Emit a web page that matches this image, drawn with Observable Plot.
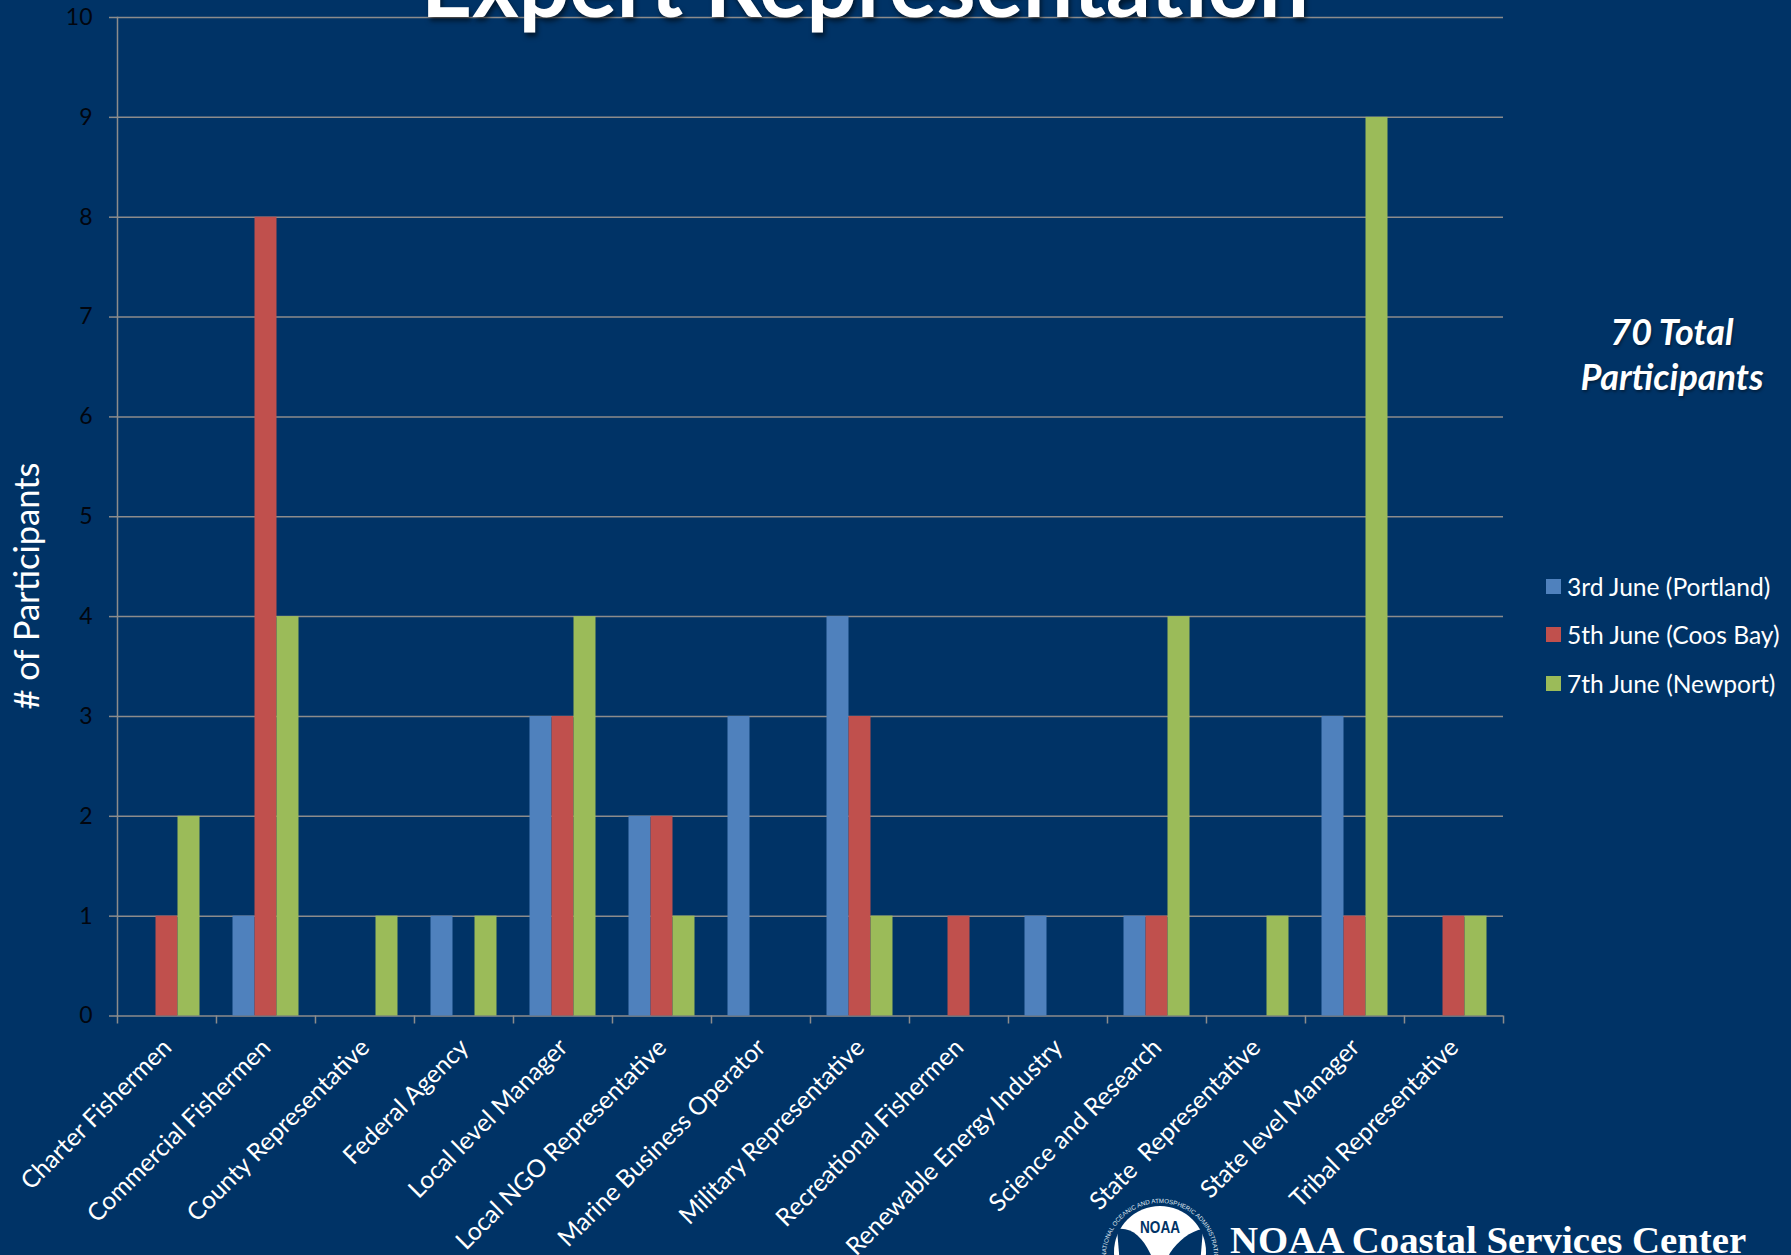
<!DOCTYPE html>
<html><head><meta charset="utf-8">
<script src="https://cdn.jsdelivr.net/npm/d3@7"></script>
<script src="https://cdn.jsdelivr.net/npm/@observablehq/plot@0.6"></script>
<style>
html,body{margin:0;padding:0;background:#003366;width:1791px;height:1255px;overflow:hidden;font-family:Lato,sans-serif;color:#fff}
#wrap{position:relative;width:1791px;height:1255px;overflow:hidden}
#chart svg{display:block;background:transparent}
.ov{position:absolute;white-space:pre;line-height:1}
#title{left:0;width:1730px;text-align:center;top:-62px;font-size:89px;font-weight:700;text-shadow:2px 4px 5px rgba(0,0,0,.55)}
#ytitle{left:26px;top:586px;font-size:34.5px;transform:translate(-50%,-50%) rotate(-90deg)}
.total{left:1572px;width:200px;text-align:center;font-size:36px;font-weight:700;font-style:italic;text-shadow:1px 2px 3px rgba(0,0,0,.4)}
.leg{font-size:24.6px}
.sw{position:absolute;width:15px;height:15px}
#noaa{left:1230px;top:1221px;font-family:"Liberation Serif",serif;font-weight:700;font-size:38.8px}
#logo{position:absolute;left:1100px;top:1195px}
</style></head><body>
<div id="wrap">
<div id="chart"></div>
<div class="ov" id="title">Expert Representation</div>
<div class="ov" id="ytitle"># of Participants</div>
<div class="ov total" style="top:313px">70 Total</div>
<div class="ov total" style="top:358px">Participants</div>
<div id="legend"></div>
<svg id="logo" width="120" height="60" viewBox="0 0 120 60">
  <defs><path id="ring" d="M 6 62 A 53 53 0 1 1 114 62"/></defs>
  <circle cx="60" cy="57" r="46" fill="#fff"/>
  <path d="M 17 34 C 32 32 42 42 50 58 L 56 70 L 20 70 Z" fill="#003366"/>
  <path d="M 103 34 C 90 36 78 46 70 58 L 64 70 L 100 70 Z" fill="#003366"/>
  <text font-family="Liberation Sans,sans-serif" font-size="6.2" fill="#dfe6ef"><textPath href="#ring" startOffset="0">NATIONAL OCEANIC AND ATMOSPHERIC ADMINISTRATION</textPath></text>
  <text x="60" y="38" text-anchor="middle" font-family="Liberation Sans,sans-serif" font-weight="700" font-size="16" fill="#003366" textLength="40" lengthAdjust="spacingAndGlyphs">NOAA</text>
</svg>
<div class="ov" id="noaa">NOAA Coastal Services Center</div>
</div>
<script>
const categories = ["Charter Fishermen","Commercial Fishermen","County Representative","Federal Agency","Local level Manager","Local NGO Representative","Marine Business Operator","Military Representative","Recreational Fishermen","Renewable Energy Industry","Science and Research","State  Representative","State level Manager","Tribal Representative"];
const seriesNames = ["3rd June (Portland)","5th June (Coos Bay)","7th June (Newport)"];
const portland = [0,1,0,1,3,2,3,4,0,1,1,0,3,0];
const coosBay  = [1,8,0,0,3,2,0,3,1,0,1,0,1,1];
const newport  = [2,4,1,1,4,1,0,1,0,0,4,1,9,1];
const seriesColors = ["#4f81bd","#c0504d","#9bbb59"];
const yTicks = [0,1,2,3,4,5,6,7,8,9,10];

const rows = categories.flatMap((c,i)=>[portland,coosBay,newport].map((v,s)=>({category:c,series:seriesNames[s],value:v[i]})));
const axisGray = "#8c8c8c";
const bandW = (1503-116.5)/14;

const plot = Plot.plot({
  width:1791, height:1255,
  marginLeft:116.5, marginRight:288, marginTop:17, marginBottom:239.5,
  style:{background:"transparent",fontFamily:"Lato,sans-serif",overflow:"visible"},
  fx:{domain:categories,padding:0,label:null,axis:null},
  x:{domain:seriesNames,paddingInner:0,paddingOuter:0.75,axis:null},
  y:{domain:[0,10],axis:null},
  color:{domain:seriesNames,range:seriesColors},
  marks:[
    Plot.ruleY(yTicks,{stroke:axisGray,strokeWidth:1.5}),
    Plot.frame({anchor:"left",stroke:axisGray,strokeWidth:1.5,facet:"super"}),
    Plot.barY(rows.filter(d=>d.value>0),{fx:"category",x:"series",y:"value",fill:"series"}),
    Plot.axisY({ticks:yTicks,tickSize:8,tickPadding:17,label:null,fontSize:23,color:"#02060f",stroke:axisGray,strokeWidth:1.5,anchor:"left",tickFormat:d=>String(d)}),
    Plot.axisFx({anchor:"bottom",tickSize:8,tickFormat:()=>"",label:null,stroke:axisGray,strokeWidth:1.5,dx:-bandW/2}),
    Plot.axisFx({ticks:categories.slice(-1),anchor:"bottom",tickSize:8,tickFormat:()=>"",label:null,stroke:axisGray,strokeWidth:1.5,dx:bandW/2}),
    Plot.text(categories,{fx:d=>d,text:d=>d,frameAnchor:"bottom",textAnchor:"end",rotate:-45,dy:33,dx:6,fontSize:24.6,fill:"#fff",lineWidth:Infinity})
  ]
});
document.getElementById("chart").appendChild(plot);

const legend = d3.select("#legend");
const legendTops = [579,627,676];
seriesNames.forEach((name,i)=>{
  legend.append("div").attr("class","sw").style("left","1546px").style("top",legendTops[i]+"px").style("background",seriesColors[i]);
  legend.append("div").attr("class","ov leg").style("left","1567px").style("top",(legendTops[i]-4)+"px").text(name);
});
</script>
</body></html>
